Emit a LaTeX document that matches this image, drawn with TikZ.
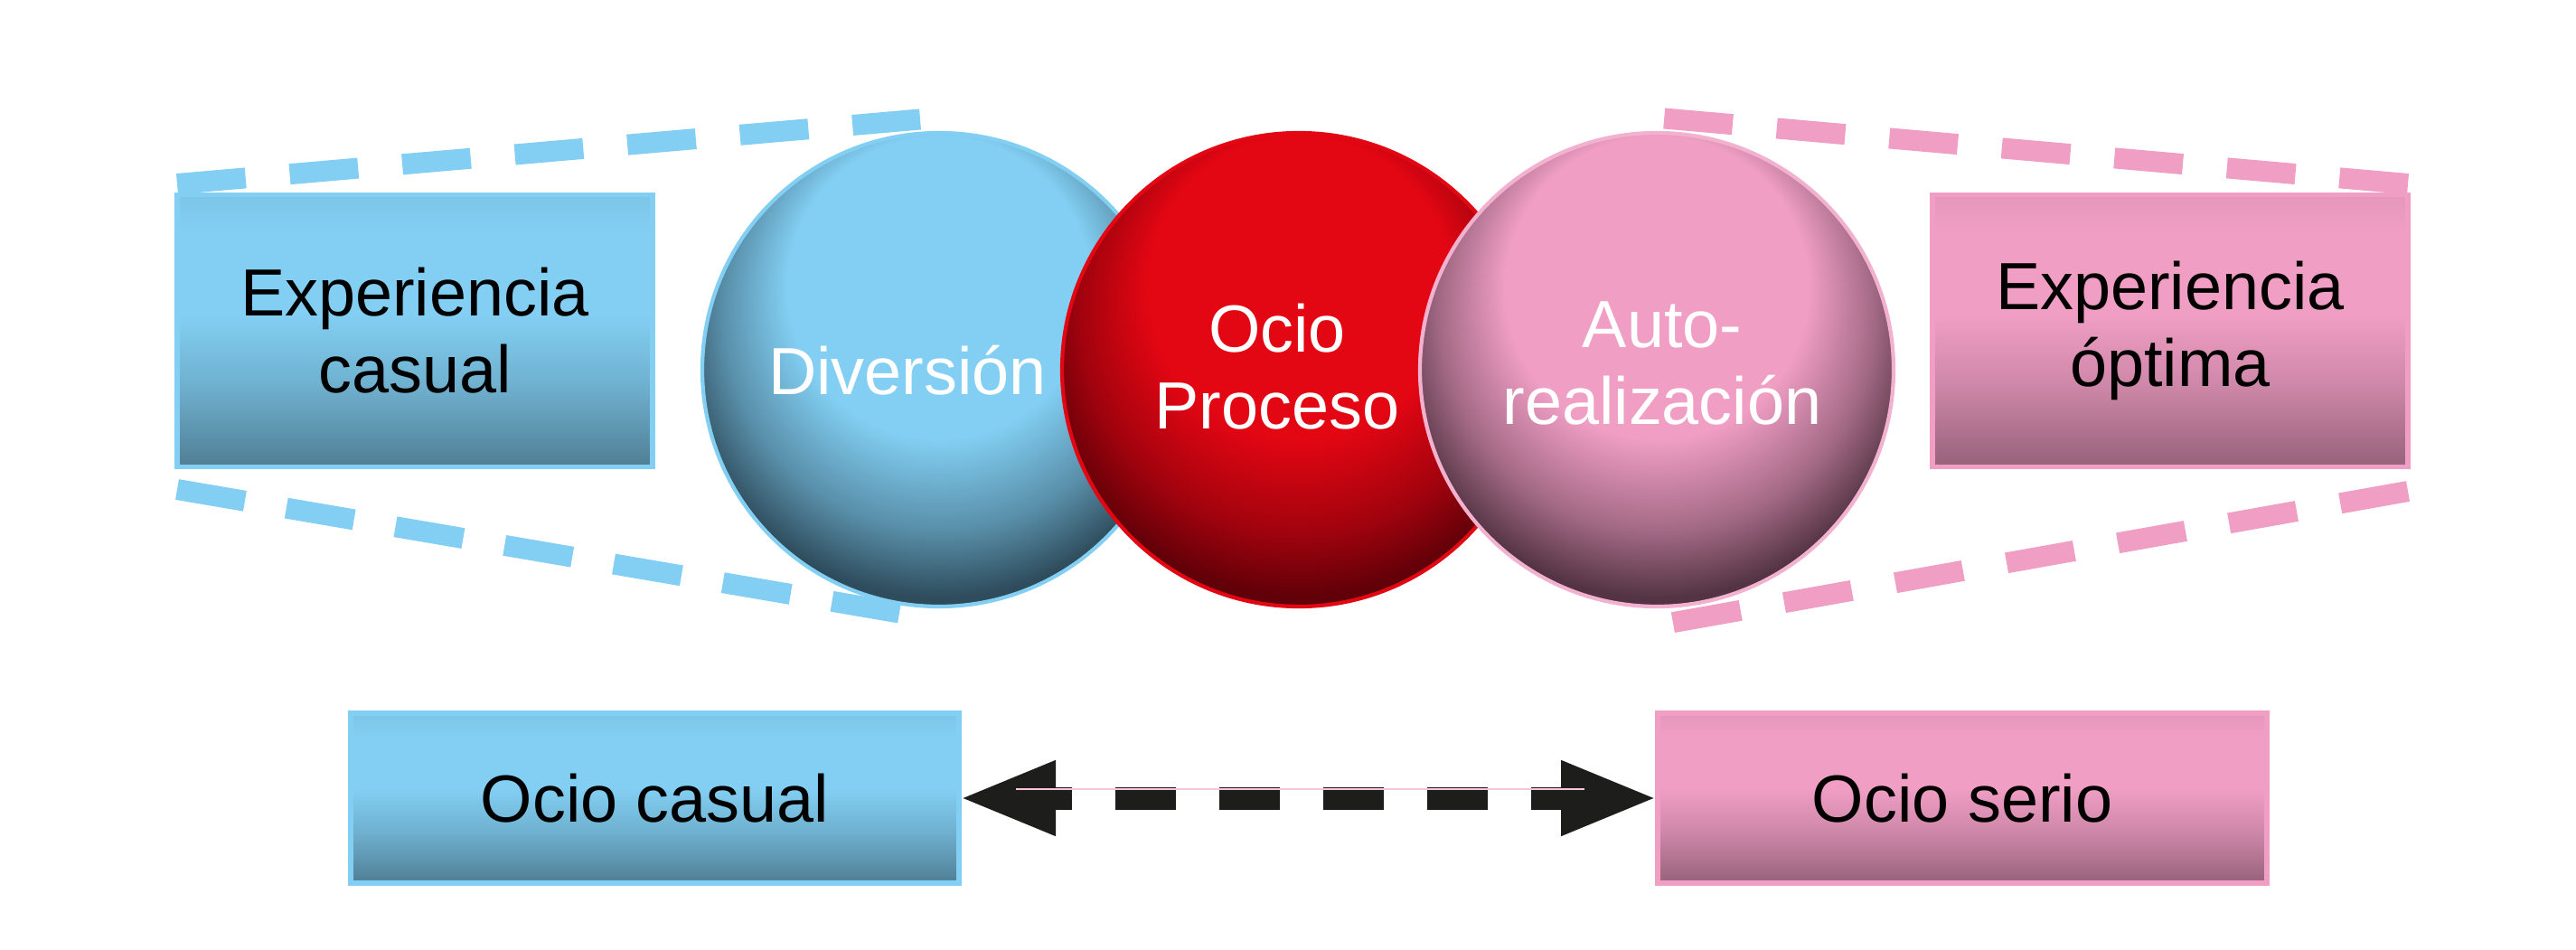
\documentclass[tikz,border=0pt]{standalone}
\usepackage{fontspec}
\setmainfont{Liberation Sans}
\usetikzlibrary{arrows.meta}

\definecolor{sky}{RGB}{130,207,243}
\definecolor{skydeep}{RGB}{46,76,92}
\definecolor{skybox}{RGB}{80,126,148}
\definecolor{rose}{RGB}{240,158,196}
\definecolor{rosedeep}{RGB}{84,52,68}
\definecolor{rosebox}{RGB}{150,98,122}
\definecolor{scarlet}{RGB}{227,6,19}
\definecolor{scarletdeep}{RGB}{96,0,8}
\definecolor{ink}{RGB}{29,29,27}

\newcommand\ballshading[3]{\pgfdeclareradialshading{#1}{\pgfpoint{0bp}{15bp}}{%
  color(0bp)=(#2); color(16bp)=(#2); color(23bp)=(#2!50!#3);
  color(28bp)=(#3); color(38bp)=(#3)}}
\newcommand\boxshading[3]{\pgfdeclareverticalshading{#1}{100bp}{%
  color(0bp)=(#3); color(25bp)=(#3); color(40bp)=(#2!62!#3); color(53bp)=(#2);
  color(68bp)=(#2); color(75bp)=(#2!88!#3); color(100bp)=(#2!88!#3)}}
\ballshading{skyball}{sky}{skydeep}
\ballshading{roseball}{rose}{rosedeep}
\ballshading{scarletball}{scarlet}{scarletdeep}
\boxshading{skycard}{sky}{skybox}
\boxshading{rosecard}{rose}{rosebox}
\newcommand\labelfont{\fontsize{21}{24.2}\selectfont}

\begin{document}
\begin{tikzpicture}[%
card/.style={rectangle, draw=#1, line width=1.5pt, inner sep=0pt, outer sep=0pt,
  font=\labelfont, align=center, shade, shading=#1card},
ball/.style={circle, draw=#1, line width=1.2pt, minimum size=5.24cm, inner sep=0pt,
  outer sep=0pt, shade, shading=#1ball},
balltext/.style={text=white, font=\labelfont, align=center, inner sep=0pt},
rim/.style n args={2}{draw=#1, line width=0.23cm, dash pattern=on 0.76cm off #2},
twoway/.style={{Triangle[length=1.07cm,width=0.76cm]}-{Triangle[length=1.07cm,width=0.76cm]},
  draw=ink, line width=0.25cm, dash pattern=on 0.67cm off 0.48cm, dash phase=0.43cm}]
\useasboundingbox (0,0) rectangle (28.5,10.5);

\node[card=sky, minimum width=5.26cm, minimum height=3.01cm] (expcas) at (4.59,6.84) {Experiencia\\casual};
\node[card=rose, minimum width=5.26cm, minimum height=3.01cm] (expopt) at (24.01,6.84) {Experiencia\\óptima};

\node[ball=sky] (div) at (10.39,6.41) {};
\node[ball=scarlet] (proc) at (14.37,6.41) {};
\node[ball=rose, draw=rose!80!white] (auto) at (18.33,6.41) {};
\node[balltext, anchor=base] (divtxt) at ([xshift=-0.35cm,yshift=-0.27cm]div.center) {Diversión};
\node[balltext] (proctxt) at ([xshift=-0.24cm,yshift=0.03cm]proc.center) {Ocio\\Proceso};
\node[balltext] (autotxt) at ([xshift=0.06cm,yshift=0.07cm]auto.center) {Auto-\\realización};

\draw[rim={sky}{0.49cm}] ([yshift=0.12cm]expcas.north west) -- ([xshift=-0.21cm,yshift=0.15cm]div.north);
\draw[rim={sky}{0.465cm}] ([yshift=-0.25cm]expcas.south west) -- ([xshift=-0.44cm,yshift=-0.07cm]div.south);
\draw[rim={rose}{0.49cm}] ([yshift=0.12cm]expopt.north east) -- ([xshift=0.08cm,yshift=0.16cm]auto.north);
\draw[rim={rose}{0.49cm}] ([yshift=-0.27cm]expopt.south east) -- ([xshift=0.16cm,yshift=-0.18cm]auto.south);

\node[card=sky, minimum width=6.73cm, minimum height=1.88cm] (ocas) at (7.245,1.67) {Ocio casual};
\node[card=rose, minimum width=6.74cm, minimum height=1.88cm] (oser) at (21.71,1.67) {Ocio serio};

\draw[twoway] (ocas.east) -- (oser.west);
\draw[rose!60, line width=0.5pt] ([xshift=0.63cm,yshift=0.1cm]ocas.east) -- ([xshift=-0.81cm,yshift=0.1cm]oser.west);
\end{tikzpicture}
\end{document}
